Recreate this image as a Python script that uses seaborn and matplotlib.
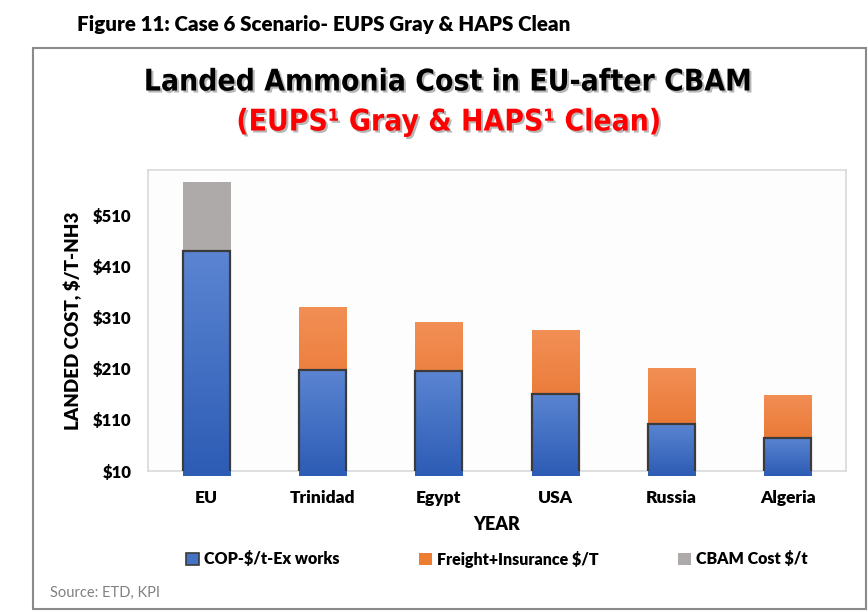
import numpy as np
import pandas as pd
import matplotlib
matplotlib.use("Agg")
import matplotlib.pyplot as plt
import matplotlib.patheffects as pe
from matplotlib.patches import Patch, Rectangle
import seaborn as sns

countries = ["EU", "Trinidad", "Egypt", "USA", "Russia", "Algeria"]
cop = [441, 208, 206, 161, 102, 75]
freight = [0, 124, 96, 125, 110, 84]
cbam = [136, 0, 0, 0, 0, 0]
y_ticks = [10, 110, 210, 310, 410, 510]

sns.set_theme(style="white")
plt.rcParams["font.family"] = ["Lato", "DejaVu Sans"]
plt.rcParams["text.color"] = "black"
plt.rcParams["axes.labelcolor"] = "black"
plt.rcParams["xtick.color"] = "black"
plt.rcParams["ytick.color"] = "black"

df = pd.DataFrame({"country": countries, "cop": cop, "freight": freight, "cbam": cbam})
df["lvl2"] = df["cop"] + df["freight"]
df["lvl3"] = df["lvl2"] + df["cbam"]

fig = plt.figure(figsize=(8.68, 6.12), dpi=100)
ax = fig.add_axes([148 / 868, 1 - 471 / 612, 698 / 868, 301 / 612])

w = 0.405
# stacked look: draw cumulative totals back to front
layers = [("lvl3", "#AFAAAA", "#AFAAAA", 2), ("lvl2", "#F28F55", "#E3661B", 3), ("cop", "#5B85D2", "#2D5CB5", 4)]
for col, ctop, cbot, z in layers:
    sns.barplot(data=df, x="country", y=col, color=ctop, width=w, saturation=1, ax=ax, zorder=z)

# gradient fill inside each bar
n = len(countries)
for i, p in enumerate(ax.patches):
    col, ctop, cbot, z = layers[i // n]
    x0, y0 = p.get_x(), p.get_y()
    bw, bh = p.get_width(), p.get_height()
    if bh <= 0:
        continue
    grad = np.linspace(0, 1, 100).reshape(-1, 1)
    cmap = matplotlib.colors.LinearSegmentedColormap.from_list("g", [cbot, ctop])
    im = ax.imshow(grad, cmap=cmap, extent=[x0, x0 + bw, y0, y0 + bh], origin="lower",
                   aspect="auto", zorder=z, interpolation="bicubic")
    im.set_clip_path(p)
    if col == "cop":
        p.set_facecolor("none")
        p.set_edgecolor("#3B3B3B")
        p.set_linewidth(1.6)
        p.set_zorder(z + 0.5)
    else:
        p.set_edgecolor("none")

ax.set_xlim(-0.5, n - 0.5)
ax.set_ylim(10, 600)
ax.set_yticks(y_ticks)
ax.set_yticklabels([f"${v}" for v in y_ticks])
ax.tick_params(axis="y", length=0, labelsize=12, pad=12)
ax.tick_params(axis="x", length=0, labelsize=12.5, pad=14)
for t in ax.get_xticklabels() + ax.get_yticklabels():
    t.set_fontweight("heavy")
ax.set_xlabel("YEAR", fontsize=13, fontweight="heavy", labelpad=7)
ax.set_ylabel("LANDED COST, $/T-NH3", fontsize=13.5, fontweight="heavy", labelpad=8)
for s in ax.spines.values():
    s.set_color("#D9D9D9")
    s.set_linewidth(1.2)
ax.set_facecolor("#FDFDFD")

# outer frame
fig.patches.append(Rectangle((33 / 868, 1 - 609 / 612), 833 / 868, 561 / 612, transform=fig.transFigure,
                             fill=False, edgecolor="#8A8A8A", linewidth=1.5))

fig.text(77 / 868, 1 - 24 / 612, "Figure 11: Case 6 Scenario- EUPS Gray & HAPS Clean",
         fontsize=14.8, fontweight="heavy", va="center", ha="left")
fig.text(448 / 868, 1 - 82 / 612, "Landed Ammonia Cost in EU-after CBAM",
         fontsize=21.5, fontweight="bold", ha="center", va="center", fontstretch="condensed",
         family=["DejaVu Sans"], color="black",
         path_effects=[pe.withSimplePatchShadow(offset=(1.5, -1.5), shadow_rgbFace="#888888", alpha=0.6)])
fig.text(449 / 868, 1 - 122 / 612, "(EUPS\u00b9 Gray & HAPS\u00b9 Clean)",
         fontsize=21.5, fontweight="bold", ha="center", va="center", color="#FF0000",
         fontstretch="condensed", family=["DejaVu Sans"],
         path_effects=[pe.withSimplePatchShadow(offset=(1.5, -1.5), shadow_rgbFace="#888888", alpha=0.6)])

handles = [Patch(facecolor="#4472C4", edgecolor="#3B3B3B", linewidth=1.2, label="COP-$/t-Ex works"),
           Patch(facecolor="#ED7D31", edgecolor="none", label="Freight+Insurance $/T"),
           Patch(facecolor="#AFAAAA", edgecolor="none", label="CBAM Cost $/t")]
leg = fig.legend(handles=handles, loc="center", bbox_to_anchor=(497 / 868, 1 - 559 / 612), ncol=3,
                 frameon=False, handlelength=0.8, handleheight=0.8, handletextpad=0.3,
                 columnspacing=5.0, prop={"size": 11.5, "weight": "heavy"})

fig.text(50 / 868, 1 - 593 / 612, "Source: ETD, KPI", fontsize=10.5, color="#808080",
         ha="left", va="center")

fig.savefig("out.png", dpi=100)
